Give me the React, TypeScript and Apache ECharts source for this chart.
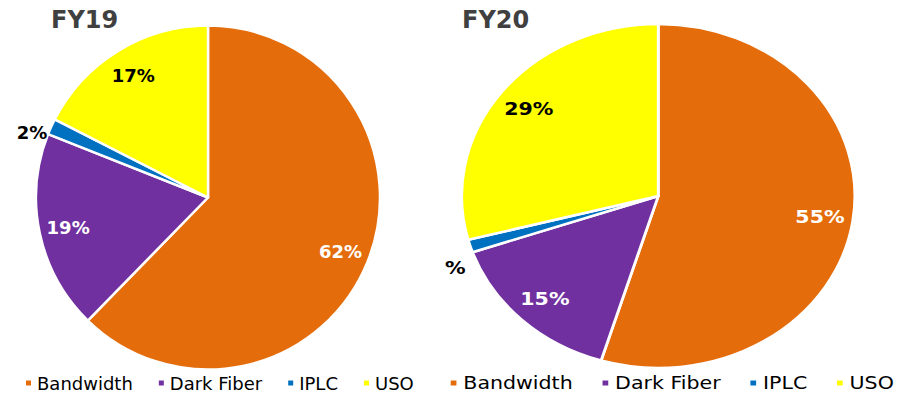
import React, { useEffect, useRef } from "react";
import * as echarts from "echarts";

const categories = ["Bandwidth", "Dark Fiber", "IPLC", "USO"];
const fy19Values = [62.0, 18.6, 1.5, 17.4];
const fy20Values = [54.7, 15.0, 1.2, 29.1];
const titles = ["FY19", "FY20"];

const colors = ["#E46C0A", "#7030A0", "#0070C0", "#FFFF00"];
const labelColors = ["#FFFFFF", "#FFFFFF", "#000000", "#000000"];

function buildSeries(values: number[], center: number[], iplcDy: number) {
  const baseData = categories.map((name, i) => ({
    name,
    value: values[i],
    itemStyle: { color: colors[i] },
  }));
  const labelData = categories.map((name, i) => ({
    name,
    value: values[i],
    label:
      i === 2
        ? { position: "outside", color: labelColors[i] }
        : { position: "inside", color: labelColors[i] },
  }));
  return [
    {
      type: "pie",
      center,
      radius: [0, 172],
      startAngle: 90,
      clockwise: true,
      data: baseData,
      label: { show: false },
      labelLine: { show: false },
      itemStyle: { borderColor: "#FFFFFF", borderWidth: 2.5 },
      silent: true,
      emphasis: { disabled: true },
    },
    {
      type: "pie",
      center,
      radius: [108, 172],
      startAngle: 90,
      clockwise: true,
      data: labelData,
      percentPrecision: 0,
      avoidLabelOverlap: false,
      itemStyle: { color: "rgba(0,0,0,0)", borderWidth: 0 },
      label: {
        show: true,
        formatter: "{d}%",
        fontFamily: "DejaVu Sans",
        fontWeight: "bold",
        fontSize: 18,
        distanceToLabelLine: 4,
      },
      labelLine: { show: false, length: 0, length2: 0 },
      labelLayout: (p: any) => (p.dataIndex === 2 ? { dy: iplcDy } : {}),
      silent: true,
      emphasis: { disabled: true },
    },
  ];
}

function legendOf(left: number) {
  return {
    data: categories,
    left,
    top: 374,
    orient: "horizontal",
    icon: "rect",
    itemWidth: 7,
    itemHeight: 7,
    itemGap: 24,
    padding: 0,
    selectedMode: false,
    textStyle: { fontFamily: "DejaVu Sans", fontSize: 18, color: "#000000" },
  };
}

const titleStyle = {
  fontFamily: "DejaVu Sans",
  fontWeight: "bold",
  fontSize: 24,
  color: "#404040",
};

export default function App() {
  const refA = useRef<HTMLDivElement>(null);
  const refB = useRef<HTMLDivElement>(null);

  useEffect(() => {
    const a = echarts.init(refA.current!, undefined, { renderer: "svg" });
    const b = echarts.init(refB.current!, undefined, { renderer: "svg" });
    a.setOption({
      animation: false,
      title: [
        { text: titles[0], left: 51, top: 8, padding: 0, textStyle: titleStyle },
        { text: titles[1], left: 462, top: 8, padding: 0, textStyle: titleStyle },
      ],
      legend: legendOf(24),
      series: buildSeries(fy19Values, [208, 197.5], 6),
    });
    b.setOption({
      animation: false,
      legend: legendOf(3),
      series: buildSeries(fy20Values, [186.6, 196], 22),
    });
    return () => {
      a.dispose();
      b.dispose();
    };
  }, []);

  return (
    <div
      style={{
        position: "absolute",
        left: 0,
        top: 0,
        width: 904,
        height: 401,
        overflow: "hidden",
        background: "#FFFFFF",
      }}
    >
      <div
        ref={refA}
        style={{ position: "absolute", left: 0, top: 0, width: 904, height: 401 }}
      />
      <div
        ref={refB}
        style={{
          position: "absolute",
          left: 445,
          top: 0,
          width: 402,
          height: 401,
          overflow: "hidden",
          transform: "scaleX(1.143)",
          transformOrigin: "0 0",
        }}
      />
    </div>
  );
}
